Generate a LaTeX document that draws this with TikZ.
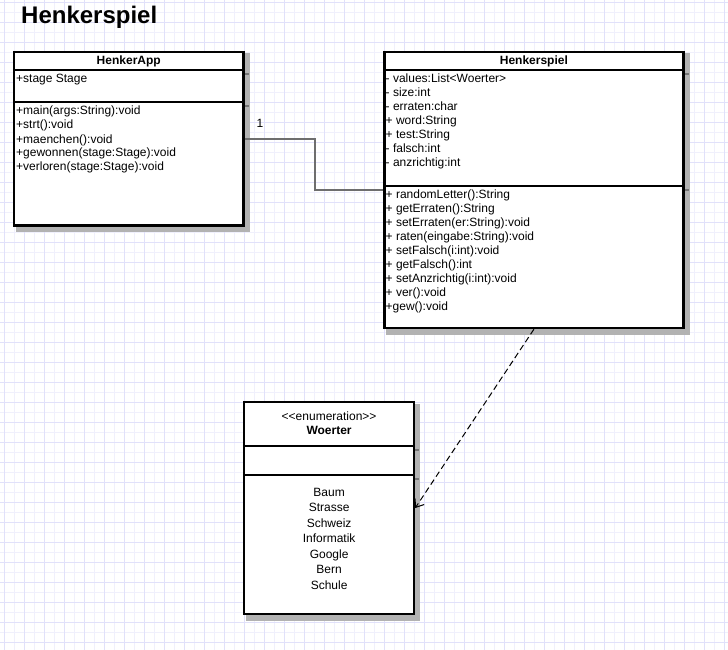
\documentclass[tikz,border=0pt]{standalone}
\usepackage{fontspec}
\setmainfont{Liberation Sans}
\usetikzlibrary{arrows.meta,backgrounds,calc}
\definecolor{gridminor}{RGB}{240,240,252}
\definecolor{gridmajor}{RGB}{225,225,250}
\definecolor{shadowgray}{RGB}{178,178,178}
\definecolor{shadowline}{RGB}{115,115,115}
\definecolor{conngray}{RGB}{110,110,110}
\tikzset{
  umlbox/.style={draw=black, fill=white, line width=2.5pt, inner sep=0pt, rectangle},
  member/.style={anchor=base west, inner sep=0pt, font=\fontsize{12}{14}\selectfont},
  centred/.style={anchor=base, inner sep=0pt, font=\fontsize{12}{14}\selectfont},
  boldname/.style={anchor=base, inner sep=0pt, font=\fontsize{12}{14}\selectfont\bfseries},
  sepline/.style={line width=2pt, black},
  shadowbox/.style={fill=shadowgray, draw=shadowgray, line width=2.5pt},
  shadowsep/.style={line width=2pt, shadowline},
  assoc/.style={draw=conngray, line width=1.8pt},
  depend/.style={draw=black, line width=1pt, dash pattern=on 6pt off 3.5pt,
    -{Straight Barb[length=7pt,width=11pt,line width=1pt]}}
}
\begin{document}
\begin{tikzpicture}[x=1pt,y=-1pt]
\useasboundingbox (0,0) rectangle (728,650);
% boxes
\node[umlbox, minimum width=229.5pt, minimum height=173.5pt] (app) at (128.75,138.75) {};
\node[umlbox, minimum width=299.25pt, minimum height=276pt] (spiel) at (533.9,190) {};
\node[umlbox, minimum width=169.75pt, minimum height=212pt] (woerter) at (329.1,508) {};
\begin{scope}[on background layer]
  \fill[white] (0,0) rectangle (728,650);
  \foreach \k in {0,...,72} {
    \pgfmathsetmacro{\xx}{4.3+10*\k}
    \draw[gridminor, line width=1pt] (\xx,0) -- (\xx,650);
  }
  \foreach \k in {0,...,64} {
    \pgfmathsetmacro{\yy}{2.7+10*\k}
    \draw[gridminor, line width=1pt] (0,\yy) -- (728,\yy);
  }
  \foreach \k in {0,2,...,72} {
    \pgfmathsetmacro{\xx}{4.3+10*\k}
    \draw[gridmajor, line width=1pt] (\xx,0) -- (\xx,650);
  }
  \foreach \k in {0,2,...,64} {
    \pgfmathsetmacro{\yy}{2.7+10*\k}
    \draw[gridmajor, line width=1pt] (0,\yy) -- (728,\yy);
  }
  % shadows
  \foreach \b in {app,spiel,woerter} {
    \filldraw[shadowbox] ($(\b.north west)+(4,4)$) rectangle ($(\b.south east)+(4,4)$);
  }
  \draw[shadowsep] (18,73.7) -- (249,73.7);
  \draw[shadowsep] (18,105.7) -- (249,105.7);
  \draw[shadowsep] (388,73.7) -- (689,73.7);
  \draw[shadowsep] (388,189.5) -- (689,189.5);
  \draw[shadowsep] (248,450) -- (419,450);
  \draw[shadowsep] (248,479) -- (419,479);
\end{scope}
% separators
\draw[sepline] (app.west |- 0,69.7) -- (app.east |- 0,69.7);
\draw[sepline] (app.west |- 0,101.7) -- (app.east |- 0,101.7);
\draw[sepline] (spiel.west |- 0,69.7) -- (spiel.east |- 0,69.7);
\draw[sepline] (spiel.west |- 0,185.5) -- (spiel.east |- 0,185.5);
\draw[sepline] (woerter.west |- 0,446) -- (woerter.east |- 0,446);
\draw[sepline] (woerter.west |- 0,475) -- (woerter.east |- 0,475);
% title
\node[anchor=base west, inner sep=0pt, font=\fontsize{24}{28}\selectfont\bfseries] (title) at (21,24) {Henkerspiel};
% HenkerApp
\node[boldname] (appname) at (128.75,65) {HenkerApp};
\node[member] (appattr) at (16,82.7) {+stage Stage};
\foreach [count=\i] \t in {+main(args:String):void,+strt():void,+maenchen():void,+gewonnen(stage:Stage):void,+verloren(stage:Stage):void}
  \node[member] (appm\i) at (16,{115+14*(\i-1)}) {\t};
% Henkerspiel
\node[boldname] (spielname) at (533.9,65) {Henkerspiel};
\foreach [count=\i] \t in {- values:List{<}Woerter{>},- size:int,- erraten:char,+ word:String,+ test:String,- falsch:int,- anzrichtig:int}
  \node[member] (spa\i) at (385.5,{82.3+14*(\i-1)}) {\t};
\foreach [count=\i] \t in {+ randomLetter():String,+ getErraten():String,+ setErraten(er:String):void,+ raten(eingabe:String):void,+ setFalsch(i:int):void,+ getFalsch():int,+ setAnzrichtig(i:int):void,+ ver():void,+gew():void}
  \node[member] (spm\i) at (385.5,{198.3+14*(\i-1)}) {\t};
% Woerter
\node[centred] (stereo) at (329.1,420.7) {{<}{<}enumeration{>}{>}};
\node[boldname] (woname) at (329.1,434.3) {Woerter};
\foreach [count=\i] \t in {Baum,Strasse,Schweiz,Informatik,Google,Bern,Schule}
  \node[centred] (wv\i) at (329.1,{496+15.5*(\i-1)}) {\t};
% connectors
\draw[assoc] (app.east) -- ++(70,0) |- (spiel.west);
\node[member] (mult) at (256.5,127.3) {1};
\draw[depend] (spiel.south) -- (woerter.east);
\end{tikzpicture}
\end{document}
